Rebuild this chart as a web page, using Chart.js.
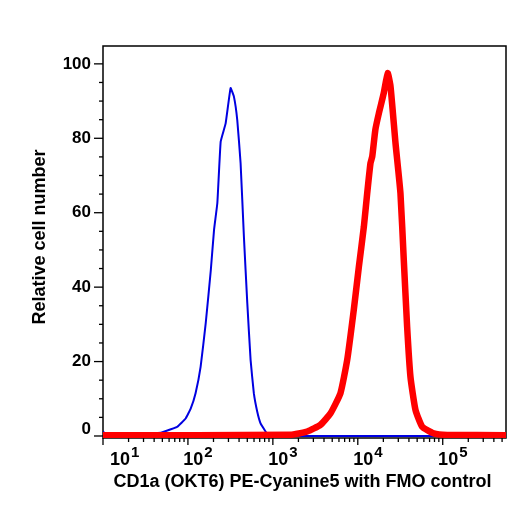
<!DOCTYPE html>
<html>
<head>
<meta charset="utf-8">
<script src="https://cdn.jsdelivr.net/npm/chart.js@4.4.1/dist/chart.umd.min.js"></script>
<style>
    html, body { margin: 0; padding: 0; background: #fff; }
    #graficos { width: 526px; height: 508px; }
</style>
</head>
<body>
<div id="graficos"><canvas id="myChartCanvas-histograma" width="526" height="508"></canvas></div>
<script>
    // FMO control - linha azul
    const fmoIntensidade = [10, 11.2, 35.5, 40, 48, 63, 75, 94, 108, 123, 141, 162, 186, 203, 222, 243, 278, 318, 348, 381, 417, 456, 500, 547, 597, 655, 716, 820, 860, 912, 556000];
    const fmoContagem    = [1.2, 0.1, 0, 0.7, 0.9, 1.8, 2.5, 4.7, 7.4, 11.5, 18.6, 30.3, 44.6, 55.4, 62.6, 79.1, 84, 93.5, 91.2, 84.9, 73.3, 53.6, 35.7, 20.4, 11.5, 6.5, 3.4, 1.2, 0.3, 0, 0];

    // CD1a PE-Cyanine5 - linha vermelha
    const coradoIntensidade = [10, 1600, 2540, 3630, 4780, 6250, 7500, 8970, 10300, 11800, 12900, 14100, 14800, 16100, 17700, 20200, 22500, 24300, 27800, 31800, 34800, 38100, 41700, 47800, 57300, 78300, 113000, 556000];
    const coradoContagem    = [0.2, 0.3, 1.2, 3, 6.1, 11.5, 20.4, 33.9, 45.5, 56.3, 65.2, 73.3, 75.1, 82.3, 86.7, 92.1, 97.5, 93.9, 78.7, 65.2, 47.3, 29.4, 15.9, 7, 2.5, 0.7, 0.3, 0.2];

    // eixos
    const ticksY = [0, 20, 40, 60, 80, 100];
    const expoentesX = [1, 2, 3, 4, 5];
    const tituloX = 'CD1a (OKT6) PE-Cyanine5 with FMO control';
    const tituloY = 'Relative cell number';

    const fonte = '"Liberation Sans", Arial, sans-serif';

    function montarPontos(xs, ys) {
        let pontos = [];
        for (let i = 0; i < xs.length; i++) {
            pontos.push({ x: xs[i], y: ys[i] });
        }
        return pontos;
    }

    // desenha moldura, ticks e textos dos eixos usando as escalas do Chart.js
    const eixos = {
        id: 'eixos',
        beforeDatasetsDraw(chart) {
            const { ctx, chartArea: a, scales } = chart;
            const x = scales.x, y = scales.y;
            ctx.save();
            ctx.strokeStyle = '#000';
            ctx.fillStyle = '#000';
            ctx.lineWidth = 1.5;
            ctx.strokeRect(a.left, a.top, a.right - a.left, a.bottom - a.top);

            // ticks Y (maior a cada 20, menor a cada 5)
            ctx.lineWidth = 1.3;
            for (let v = 0; v <= 100; v += 5) {
                const py = y.getPixelForValue(v);
                const len = ticksY.includes(v) ? 9 : 4;
                ctx.beginPath();
                ctx.moveTo(a.left - len, py);
                ctx.lineTo(a.left, py);
                ctx.stroke();
            }
            ctx.font = 'bold 17px ' + fonte;
            ctx.textAlign = 'right';
            ctx.textBaseline = 'middle';
            ticksY.forEach(v => {
                let py = y.getPixelForValue(v);
                if (v == 0) py -= 7;
                ctx.fillText(String(v), a.left - 12, py);
            });

            // ticks X (décadas e subdivisões)
            expoentesX.forEach(e => {
                for (let k = 1; k <= 9; k++) {
                    const val = k * Math.pow(10, e);
                    if (val > x.max) break;
                    const px = x.getPixelForValue(val);
                    const len = k == 1 ? 7 : 4;
                    ctx.beginPath();
                    ctx.moveTo(px, a.bottom);
                    ctx.lineTo(px, a.bottom + len);
                    ctx.stroke();
                }
            });
            ctx.textAlign = 'left';
            ctx.textBaseline = 'alphabetic';
            expoentesX.forEach(e => {
                const px = x.getPixelForValue(Math.pow(10, e));
                const esq = Math.max(px - 4.6, a.left + 7);
                ctx.font = 'bold 18px ' + fonte;
                ctx.fillText('10', esq, 465);
                const w = ctx.measureText('10').width;
                ctx.font = 'bold 15px ' + fonte;
                ctx.fillText(String(e), esq + w + 1, 456.5);
            });

            // títulos
            ctx.font = 'bold 18px ' + fonte;
            ctx.textAlign = 'center';
            ctx.fillText(tituloX, (a.left + a.right) / 2 - 2, 487);
            ctx.translate(45, 237);
            ctx.rotate(-Math.PI / 2);
            ctx.fillText(tituloY, 0, 0);
            ctx.restore();
        }
    };

    const dados = {
        datasets: [{
            label: 'CD1a PE-Cyanine5',
            data: montarPontos(coradoIntensidade, coradoContagem),
            borderColor: 'rgb(255, 0, 0)',
            borderWidth: 6.5,
            showLine: true,
            pointRadius: 0,
            tension: 0.15
        }, {
            label: 'FMO control',
            data: montarPontos(fmoIntensidade, fmoContagem),
            borderColor: 'rgb(0, 0, 225)',
            borderWidth: 2,
            showLine: true,
            pointRadius: 0,
            tension: 0.1
        }]
    };

    const config = {
        type: 'scatter',
        data: dados,
        options: {
            responsive: false,
            animation: false,
            layout: { padding: { left: 103, top: 46, right: 20, bottom: 70 } },
            scales: {
                x: { type: 'logarithmic', min: 10, max: 556000, display: false },
                y: { type: 'linear', min: -0.54, max: 104.8, display: false }
            },
            plugins: { legend: { display: false }, tooltip: { enabled: false } }
        },
        plugins: [eixos]
    };

    let myChart = new Chart(document.getElementById('myChartCanvas-histograma'), config);
</script>
</body>
</html>
